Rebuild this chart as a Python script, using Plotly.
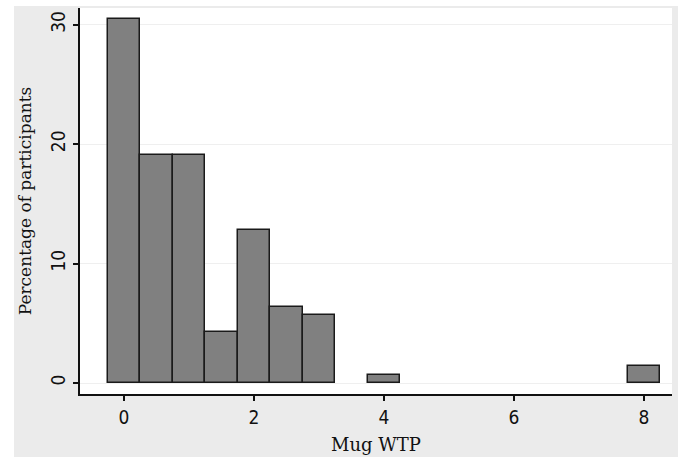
import plotly.graph_objects as go

# Histogram of Mug WTP (bin width 0.5, centred on bin midpoints)
bin_centers = [0.0, 0.5, 1.0, 1.5, 2.0, 2.5, 3.0, 4.0, 8.0]
percentages = [30.5, 19.1, 19.1, 4.3, 12.8, 6.4, 5.7, 0.7, 1.4]
bin_width = 0.5
x_ticks = [0, 2, 4, 6, 8]
y_ticks = [0, 10, 20, 30]

W, H = 678, 457
ml, mr, mt, mb = 80, 6, 8, 63
pw, ph = W - ml - mr, H - mt - mb

fig = go.Figure()
fig.add_trace(go.Bar(
    x=bin_centers, y=percentages, width=bin_width,
    marker=dict(color="#808080", line=dict(color="#1a1a1a", width=1.5)),
    showlegend=False,
))

# thin white border at left and top of the grey outer region
fig.add_shape(type="rect", xref="paper", yref="paper", layer="below",
              x0=-ml / pw - 0.01, x1=(14 - ml) / pw,
              y0=-mb / ph - 0.01, y1=1 + mt / ph + 0.01,
              fillcolor="white", line=dict(width=0))
fig.add_shape(type="rect", xref="paper", yref="paper", layer="below",
              x0=-ml / pw - 0.01, x1=1 + mr / pw + 0.01,
              y0=1 + 2 / ph, y1=1 + mt / ph + 0.01,
              fillcolor="white", line=dict(width=0))

tick_font = dict(family="DejaVu Sans Condensed, Liberation Sans Narrow, DejaVu Sans", size=19)

fig.update_layout(
    width=W, height=H,
    margin=dict(l=ml, r=mr, t=mt, b=mb),
    paper_bgcolor="#ebebeb", plot_bgcolor="white",
    bargap=0,
    font=dict(family="DejaVu Serif", color="#111111"),
    xaxis=dict(
        range=[-0.677, 8.43], tickvals=x_ticks, ticktext=[str(v) for v in x_ticks],
        showgrid=False, zeroline=False, automargin=False,
        showline=True, linecolor="#111111", linewidth=2,
        ticks="outside", ticklen=5, tickwidth=2, tickcolor="#111111",
        tickfont=tick_font,
        title=dict(text="Mug WTP", font=dict(family="DejaVu Serif", size=18), standoff=12),
    ),
    yaxis=dict(
        range=[-0.92, 31.4], tickvals=y_ticks, ticktext=[str(v) for v in y_ticks],
        showgrid=True, gridcolor="#efefef", gridwidth=1, zeroline=False, automargin=False,
        showline=True, linecolor="#111111", linewidth=2,
        ticks="outside", ticklen=5, tickwidth=2, tickcolor="#111111",
        tickangle=-90,
        tickfont=tick_font,
        title=dict(text="Percentage of participants", font=dict(family="DejaVu Serif", size=17), standoff=11),
    ),
)

fig.write_html("out.html", config={"displayModeBar": False},
               post_script="document.body.style.margin='0';")
